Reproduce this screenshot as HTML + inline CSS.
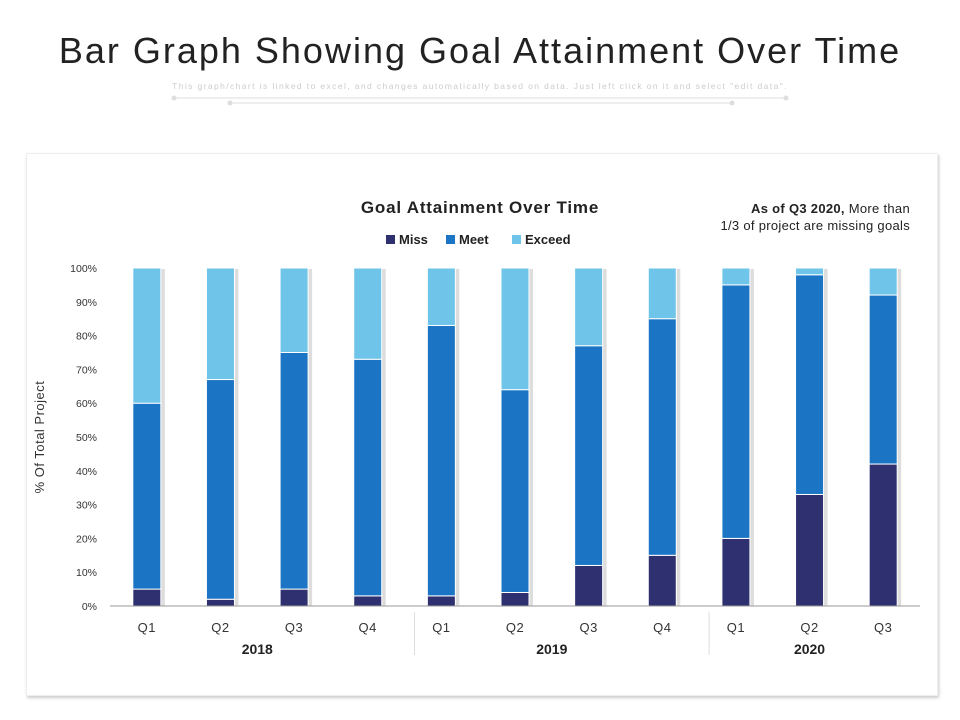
<!DOCTYPE html>
<html><head><meta charset="utf-8"><style>
body{margin:0;width:960px;height:720px;background:#fff;font-family:"Liberation Sans",sans-serif;overflow:hidden;position:relative}
#title{position:absolute;top:30px;left:0;width:960px;text-align:center;font-size:36px;letter-spacing:2px;color:#222}
#sub{position:absolute;top:81px;left:0;width:960px;text-align:center;font-size:8.5px;letter-spacing:1.4px;color:#ccc}
#card{position:absolute;left:26px;top:153px;width:910px;height:541px;border:1px solid #eee;box-shadow:1px 2px 3px #ccc}
svg{position:absolute;left:0;top:0}
</style></head><body>
<div id="title">Bar Graph Showing Goal Attainment Over Time</div>
<div id="sub">This graph/chart is linked to excel, and changes automatically based on data. Just left click on it and select "edit data".</div>
<div id="card"></div>
<svg id="chart" width="960" height="720">
<g stroke="#ddd" fill="#ddd">
<line x1="174" y1="98" x2="786" y2="98"/><circle cx="174" cy="98" r="2"/><circle cx="786" cy="98" r="2"/>
<line x1="230" y1="103" x2="732" y2="103"/><circle cx="230" cy="103" r="2"/><circle cx="732" cy="103" r="2"/>
</g>
<text x="480" y="213" text-anchor="middle" font-size="17" letter-spacing="0.8" font-weight="bold" fill="#222">Goal Attainment Over Time</text>
<text x="910" y="213" text-anchor="end" font-size="13" letter-spacing="0.3" fill="#222"><tspan font-weight="bold">As of Q3 2020,</tspan> More than</text>
<text x="910" y="230" text-anchor="end" font-size="13" letter-spacing="0.3" fill="#222">1/3 of project are missing goals</text>
<g id="legend"></g>
<text transform="translate(44,437) rotate(-90)" text-anchor="middle" font-size="13" letter-spacing="0.5" fill="#333">% Of Total Project</text>
<g id="grid"></g><g id="bars"></g><g id="xax"></g>
</svg>
<script>
const categories=["Q1","Q2","Q3","Q4","Q1","Q2","Q3","Q4","Q1","Q2","Q3"];
const years=["2018","2019","2020"];
const yearSizes=[4,4,3];
const miss=[5,2,5,3,3,4,12,15,20,33,42];
const meet=[55,65,70,70,80,60,65,70,75,65,50];
const exceed=[40,33,25,27,17,36,23,15,5,2,8];
const yTicks=[0,10,20,30,40,50,60,70,80,90,100];
const seriesNames=["Miss","Meet","Exceed"];
const colors=["#2e3070","#1b75c4","#6fc4ea"];
const NS="http://www.w3.org/2000/svg";
const x0=110,x1=920,yTop=268,yBot=606;
const y=v=>yBot-(v/100)*(yBot-yTop);
const step=(x1-x0)/categories.length;
const xc=i=>x0+step*(i+0.5);
function mk(t,a,p){const e=document.createElementNS(NS,t);for(const k in a)e.setAttribute(k,a[k]);(p||document.getElementById('chart')).appendChild(e);return e;}
const grid=document.getElementById('grid'),bars=document.getElementById('bars'),xax=document.getElementById('xax'),leg=document.getElementById('legend');
yTicks.forEach(t=>{const e=mk('text',{x:97,y:y(t)+4,'text-anchor':'end','font-size':10.5,fill:'#333'},grid);e.textContent=t+'%';

});
const series=[miss,meet,exceed];
categories.forEach((c,i)=>{let base=0;const bw=28;
const sh=mk('rect',{x:xc(i)-bw/2+2,y:y(100)+1,width:bw+2,height:yBot-y(100)-1,fill:'#ddd'},bars);


series.forEach((s,k)=>{const r=mk('rect',{x:xc(i)-bw/2,y:y(base+s[i]),width:bw,height:y(base)-y(base+s[i]),fill:colors[k],stroke:'#fff','stroke-width':1},bars);


base+=s[i];});
const t=mk('text',{x:xc(i),y:632,'text-anchor':'middle','font-size':13,'letter-spacing':0.5,fill:'#333'},xax);t.textContent=c;

});
const ax=mk('line',{x1:x0,y1:yBot,x2:x1,y2:yBot,stroke:'#999'},xax);


let start=0;years.forEach((yr,j)=>{const n=yearSizes[j];const cx=x0+step*(start+n/2);
const t=mk('text',{x:cx,y:654,'text-anchor':'middle','font-size':14,'font-weight':'bold',fill:'#222'},xax);t.textContent=yr;


start+=n;if(j<years.length-1){const l=mk('line',{x1:x0+step*start+10,y1:612,x2:x0+step*start+10,y2:655,stroke:'#ddd'},xax);

}});
const lx=[386,446,512];
seriesNames.forEach((n,k)=>{const r=mk('rect',{x:lx[k],y:235,width:9,height:9,fill:colors[k]},leg);


const t=mk('text',{x:lx[k]+13,y:244,'font-size':13,'font-weight':'bold',fill:'#222'},leg);t.textContent=n;

});
</script>
</body></html>
